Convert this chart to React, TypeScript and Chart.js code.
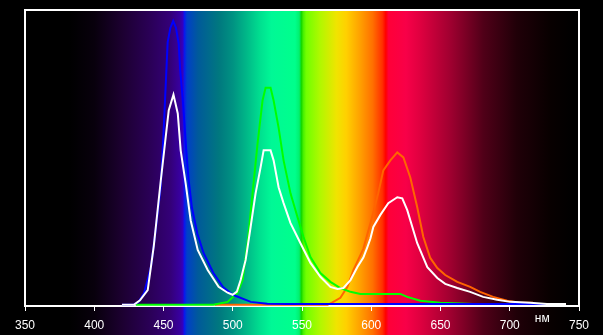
import React, { useEffect, useRef } from 'react';
import { Chart, registerables } from 'chart.js';

Chart.register(...registerables);

// Wavelength axis (nm)
const axisMin = 350;
const axisMax = 750;
const axisStep = 50;
const unitLabel = 'нм';

// Spectrum background stops
const spectrumNm = [350, 382, 400, 420, 440, 455, 462, 464, 465, 467, 475, 490, 500, 510, 520, 528, 545, 548, 549.5, 551, 553, 563, 575, 582, 592, 601, 608, 610.5, 612.5, 625, 635, 657, 681, 705, 729, 746, 750];
const spectrumColor = ['#000000', '#000000', '#08000c', '#1c0030', '#2a0056', '#340078', '#3800a0', '#3400c0', '#0818f0', '#0040c8', '#005a9a', '#00787f', '#009282', '#00b888', '#00e090', '#00f896', '#00ff8c', '#00f070', '#10d800', '#48f000', '#70ff00', '#b0f800', '#f0e400', '#ffd000', '#ffa000', '#ff7000', '#ff3000', '#ff0000', '#ff0038', '#f80048', '#e00040', '#a00030', '#500018', '#200008', '#080000', '#000000', '#000000'];

// Blue channel
const blueNm = [420, 428, 432, 436, 441, 444, 448, 450, 453, 455, 457, 459, 461, 462, 464, 466.5, 468, 470.5, 474.5, 479, 486, 493, 500, 513, 525, 540, 600, 700, 740];
const blueVal = [0, 0, 1, 4, 13, 24, 40, 58, 89, 94, 96.3, 94, 88.5, 80, 69, 52, 43, 33, 24, 17.5, 10.8, 6, 3.4, 1, 0.4, 0.3, 0.3, 0.3, 0.3];

// White (sum)
const whiteNm = [420, 428.6, 433, 438.6, 443, 448, 451.6, 453.8, 457.2, 460.3, 462.4, 466, 469.6, 474.7, 481.9, 489.8, 496.3, 499.9, 503, 505.7, 509.3, 512.9, 516.5, 520.1, 522.3, 527.3, 529.5, 533.1, 536.7, 541.7, 548.9, 556.1, 563.3, 570.5, 575.6, 579.9, 585, 590, 594.3, 597.2, 599.4, 601.5, 606.6, 612.3, 618.8, 622.4, 626, 633.2, 640.5, 647.7, 653.4, 662.1, 671.4, 680.8, 690.9, 700.3, 714.7, 726.9, 740.6];
const whiteVal = [0, 0, 1.5, 5, 20, 42, 57, 66, 71.3, 64.9, 52.4, 41.2, 28.7, 18.6, 11.8, 6.1, 4.1, 3.4, 4.5, 8.4, 15.2, 26.4, 37.8, 46.6, 52.4, 52.4, 49, 39.9, 34.5, 27.7, 20.9, 14.2, 9.5, 6.1, 5.4, 5.7, 8.4, 12.8, 16, 19.6, 22.5, 26.4, 30.5, 34.5, 36.5, 36.1, 32.1, 20.9, 12.8, 9.1, 7.1, 5.7, 4.4, 2.7, 1.7, 1, 0.7, 0.3, 0.3];

// Green channel
const greenNm = [430, 486, 496.3, 503.5, 507.1, 510.7, 514.3, 517.9, 521.5, 523.7, 527.3, 529.5, 533.1, 536.7, 541.7, 546.8, 551.1, 556.1, 563.3, 570.5, 577.7, 585, 592.2, 621, 626, 635.4, 649.8, 673.6, 700];
const greenVal = [0, 0, 1, 4.1, 8.4, 21, 37.8, 54.7, 69.3, 73.6, 73.6, 69.3, 60.1, 49, 37.8, 29.7, 23, 16.2, 10.8, 7.8, 5.7, 4.4, 3.7, 3.7, 2.7, 1.4, 0.7, 0.3, 0.3];

// Red channel
const redNm = [487, 568.4, 572, 577.7, 582.8, 587.1, 594.3, 600, 605, 608.7, 613.8, 618.8, 623.2, 628.2, 633.2, 637.6, 642.6, 647.7, 653.4, 662.1, 671.4, 678.6, 688, 698.1, 707.5, 716.8];
const redVal = [0, 0, 0.8, 2.4, 6.1, 11.8, 19, 28.7, 37.8, 45.6, 49, 51.7, 50, 43.2, 33.1, 23, 15.9, 12.5, 10.1, 7.8, 6.1, 4.4, 2.7, 1.4, 0.7, 0.7];

const FONT = '"Liberation Sans", Arial, sans-serif';
const BG = '#000000';

const toPoints = (xs: number[], ys: number[]) => xs.map((x, i) => ({ x, y: ys[i] }));

const spectrumPlugin = {
  id: 'spectrum',
  beforeDraw(chart: any) {
    const { ctx, chartArea, scales } = chart;
    const xs = scales.x;
    ctx.save();
    ctx.fillStyle = BG;
    ctx.fillRect(0, 0, chart.width, chart.height);
    const x0 = xs.getPixelForValue(axisMin);
    const x1 = xs.getPixelForValue(axisMax);
    const g = ctx.createLinearGradient(x0, 0, x1, 0);
    spectrumNm.forEach((nm, i) => g.addColorStop((nm - axisMin) / (axisMax - axisMin), spectrumColor[i]));
    ctx.fillStyle = g;
    ctx.fillRect(x0, chartArea.top, x1 - x0, chart.height - chartArea.top);
    ctx.restore();
  },
  beforeDatasetsDraw(chart: any) {
    const { ctx, chartArea } = chart;
    ctx.save();
    ctx.strokeStyle = '#ffffff';
    ctx.lineWidth = 2;
    ctx.strokeRect(chartArea.left, chartArea.top, chartArea.right - chartArea.left, chartArea.bottom - chartArea.top);
    ctx.restore();
  },
  afterDraw(chart: any) {
    const { ctx, scales } = chart;
    const xs = scales.x;
    ctx.save();
    ctx.fillStyle = '#ffffff';
    ctx.font = `12px ${FONT}`;
    ctx.textAlign = 'center';
    ctx.textBaseline = 'alphabetic';
    ctx.fillText(unitLabel, xs.getPixelForValue(723.5), 322);
    ctx.restore();
  },
};

export default function App() {
  const ref = useRef<HTMLCanvasElement | null>(null);

  useEffect(() => {
    document.body.style.margin = '0';
    document.body.style.background = BG;
    const canvas = ref.current;
    if (!canvas) return;
    const mk = (label: string, xs: number[], ys: number[], color: string, order: number) => ({
      label,
      data: toPoints(xs, ys),
      borderColor: color,
      backgroundColor: color,
      borderWidth: 2,
      pointRadius: 0,
      tension: 0,
      fill: false,
      order,
    });
    const chart = new Chart(canvas, {
      type: 'line',
      data: {
        datasets: [
          mk('red', redNm, redVal, '#ff6400', 4),
          mk('green', greenNm, greenVal, '#00ff00', 3),
          mk('blue', blueNm, blueVal, '#0000ff', 2),
          mk('white', whiteNm, whiteVal, '#ffffff', 1),
        ],
      },
      options: {
        animation: false,
        responsive: false,
        devicePixelRatio: 1,
        layout: { padding: { left: 25, right: 24, top: 10, bottom: 0 } },
        plugins: { legend: { display: false }, tooltip: { enabled: false } },
        scales: {
          x: {
            type: 'linear',
            min: axisMin,
            max: axisMax,
            afterFit: (s: any) => {
              s.height = 29;
            },
            ticks: {
              stepSize: axisStep,
              color: '#ffffff',
              font: { family: FONT, size: 12 },
              padding: 7,
              maxRotation: 0,
            },
            grid: {
              drawOnChartArea: false,
              drawTicks: true,
              tickLength: 5,
              color: '#ffffff',
              lineWidth: 1,
            },
            border: { display: false },
          },
          y: {
            display: false,
            min: -0.4,
            max: 100,
          },
        },
      },
      plugins: [spectrumPlugin],
    } as any);
    return () => chart.destroy();
  }, []);

  return (
    <div style={{ width: 603, height: 335, background: BG }}>
      <canvas ref={ref} width={603} height={335} style={{ display: 'block', width: 603, height: 335 }} />
    </div>
  );
}
